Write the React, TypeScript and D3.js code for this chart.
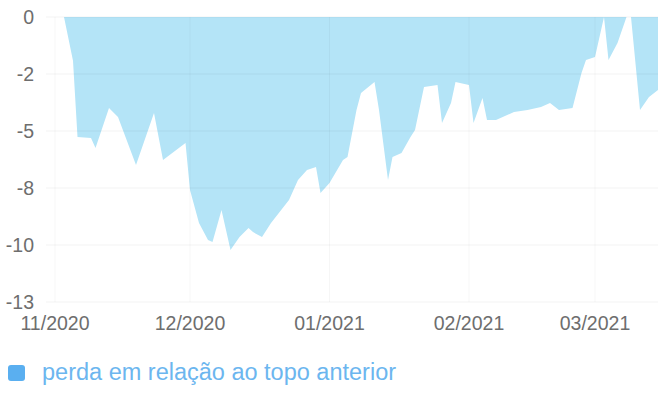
import React from 'react';
import * as d3 from 'd3';

// drawdown series (% below previous peak)
const dates = [
  '2020-10-30', '2020-11-03', '2020-11-05', '2020-11-06', '2020-11-09', '2020-11-10',
  '2020-11-13', '2020-11-15', '2020-11-19', '2020-11-23', '2020-11-25', '2020-11-30',
  '2020-12-01', '2020-12-03', '2020-12-05', '2020-12-06', '2020-12-08', '2020-12-10',
  '2020-12-12', '2020-12-14', '2020-12-15', '2020-12-17', '2020-12-19', '2020-12-23',
  '2020-12-25', '2020-12-27', '2020-12-29', '2020-12-30', '2021-01-01', '2021-01-04',
  '2021-01-05', '2021-01-07', '2021-01-08', '2021-01-11', '2021-01-12', '2021-01-14',
  '2021-01-15', '2021-01-17', '2021-01-19', '2021-01-20', '2021-01-22', '2021-01-25',
  '2021-01-26', '2021-01-28', '2021-01-29', '2021-02-01', '2021-02-02', '2021-02-04',
  '2021-02-05', '2021-02-07', '2021-02-11', '2021-02-14', '2021-02-17', '2021-02-19',
  '2021-02-21', '2021-02-24', '2021-02-26', '2021-02-27', '2021-03-01', '2021-03-03',
  '2021-03-04', '2021-03-06', '2021-03-08', '2021-03-09', '2021-03-11', '2021-03-13',
  '2021-03-15',
];
const drawdown = [
  0, 0, -2.0, -5.47, -5.52, -5.98,
  -4.15, -4.56, -6.75, -4.38, -6.52, -5.75,
  -7.89, -9.4, -10.17, -10.26, -8.8, -10.63,
  -10.04, -9.63, -9.81, -10.04, -9.4, -8.35,
  -7.44, -6.98, -6.84, -8.03, -7.57, -6.52,
  -6.39, -4.24, -3.47, -2.97, -4.24, -7.44,
  -6.39, -6.2, -5.47, -5.16, -3.19, -3.1,
  -4.84, -3.92, -2.97, -3.1, -4.84, -3.7,
  -4.7, -4.7, -4.33, -4.24, -4.11, -3.92,
  -4.24, -4.15, -2.55, -1.96, -1.82, 0,
  -1.96, -1.19, 0, 0, -4.24, -3.65,
  -3.33,
];

const yTicks = [0, -2.6, -5.2, -7.8, -10.4, -13];
const yTickLabels = ['0', '-2', '-5', '-8', '-10', '-13'];
const xTicks = ['2020-11-01', '2020-12-01', '2021-01-01', '2021-02-01', '2021-03-01'];
const legendLabel = 'perda em relação ao topo anterior';

const width = 658;
const height = 393;

const parse = d3.timeParse('%Y-%m-%d');
const fmt = d3.timeFormat('%m/%Y');

const App: React.FC = () => {
  const data = dates.map((d, i) => ({ date: parse(d) as Date, value: drawdown[i] }));

  const x = d3
    .scaleTime()
    .domain([parse('2020-10-30') as Date, parse('2021-03-15') as Date])
    .range([46, 658]);
  const y = d3.scaleLinear().domain([-13, 0]).range([302, 17]);

  const area = d3
    .area<{ date: Date; value: number }>()
    .x((d) => x(d.date))
    .y0(y(0))
    .y1((d) => y(d.value));

  const font = "'Liberation Sans', Arial, sans-serif";

  return (
    <svg
      width={width}
      height={height}
      style={{ position: 'absolute', left: 0, top: 0, background: '#fff' }}
    >
      <path d={area(data) as string} fill="#b4e4f7" />

      {/* grid */}
      {yTicks.map((t) => (
        <line key={'gy' + t} x1={46} x2={658} y1={y(t)} y2={y(t)} stroke="rgba(0,0,0,0.05)" />
      ))}
      {xTicks.map((t) => {
        const xp = x(parse(t) as Date);
        return <line key={'gx' + t} x1={xp} x2={xp} y1={17} y2={302} stroke="rgba(0,0,0,0.035)" />;
      })}

      {/* y axis labels */}
      {yTicks.map((t, i) => (
        <text
          key={'ty' + t}
          x={34}
          y={y(t)}
          dy="0.35em"
          textAnchor="end"
          fontFamily={font}
          fontSize={19.5}
          fill="#6e6e6e"
        >
          {yTickLabels[i]}
        </text>
      ))}

      {/* x axis labels */}
      {xTicks.map((t) => (
        <text
          key={'tx' + t}
          x={x(parse(t) as Date)}
          y={330}
          textAnchor="middle"
          fontFamily={font}
          fontSize={19.5}
          fill="#6e6e6e"
        >
          {fmt(parse(t) as Date)}
        </text>
      ))}

      {/* legend */}
      <rect x={8} y={365} width={17} height={16} rx={3} fill="#5aaff0" />
      <text x={42} y={380} fontFamily={font} fontSize={23.5} fill="#6cb6ef">
        {legendLabel}
      </text>
    </svg>
  );
};

export default App;
